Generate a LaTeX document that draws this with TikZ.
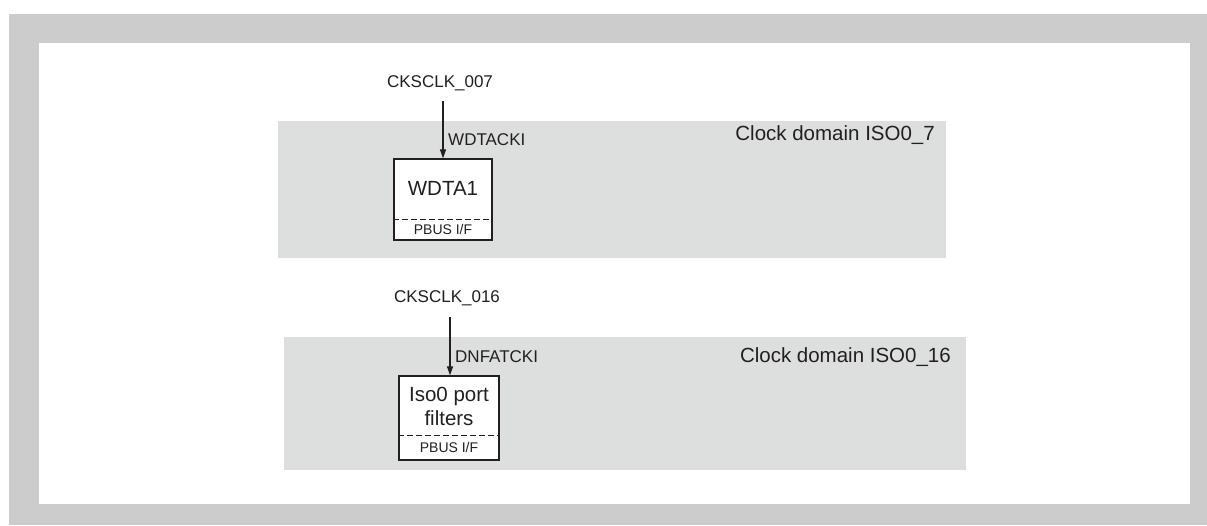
\documentclass[tikz,border=0pt]{standalone}
\usepackage{fontspec}
\setmainfont{Liberation Sans}
\usetikzlibrary{arrows.meta}
\definecolor{framegray}{HTML}{CCCCCC}
\definecolor{domgray}{HTML}{DDDFDE}
\definecolor{ink}{HTML}{231F20}
\tikzset{
  block/.style={draw=ink, fill=white, line width=1.3pt, inner sep=0pt},
  sigtext/.style={text=ink, inner sep=0pt, font=\fontsize{17}{20}\selectfont},
  domtext/.style={text=ink, inner sep=0pt, font=\fontsize{20.5}{24}\selectfont},
  boxtext/.style={text=ink, inner sep=0pt, align=center, font=\fontsize{20.5}{24}\selectfont},
  bustext/.style={text=ink, inner sep=0pt, font=\fontsize{14}{16}\selectfont},
  sepline/.style={draw=ink, line width=1pt, dash pattern=on 6pt off 3pt},
  clkarrow/.style={draw=ink, line width=1.2pt, -{Triangle[length=9pt,width=6pt]}}
}
\begin{document}
\begin{tikzpicture}[x=1pt,y=-1pt]
\useasboundingbox (0,0) rectangle (1207,525);
\fill[framegray] (9,14) rectangle (1207,525);
\fill[white] (39,43) rectangle (1190,504);
\fill[domgray] (278,121) rectangle (946,258);
\fill[domgray] (284,337) rectangle (966,470);

\node[domtext, anchor=east] (d7) at (935,135) {Clock domain ISO0\_7};
\node[domtext, anchor=east] (d16) at (951,357) {Clock domain ISO0\_16};

% domain 1
\node[block, minimum width=98pt, minimum height=81pt] (wdta) at (443,199.5) {};
\draw[sepline] ([yshift=21pt]wdta.south west) -- ([yshift=21pt]wdta.south east);
\node[boxtext] (wdtaname) at (443,188) {WDTA1};
\node[bustext] (wdtabus) at (443,229.5) {PBUS I/F};
\node[sigtext] (ck7) at (440,83) {CKSCLK\_007};
\coordinate (c7) at (443,101);
\draw[clkarrow] (c7) -- (wdta.north);
\node[sigtext, anchor=west] (wck) at (448,140) {WDTACKI};

% domain 2
\node[block, minimum width=100pt, minimum height=84pt] (iso) at (449,418) {};
\draw[sepline] ([yshift=25pt]iso.south west) -- ([yshift=25pt]iso.south east);
\node[boxtext] (isoname) at (449,406) {Iso0 port\\filters};
\node[bustext] (isobus) at (449,447.5) {PBUS I/F};
\node[sigtext] (ck16) at (447,298) {CKSCLK\_016};
\coordinate (c16) at (450,317);
\draw[clkarrow] (c16) -- (c16 |- iso.north);
\node[sigtext, anchor=west] (dck) at (455,357) {DNFATCKI};
\end{tikzpicture}
\end{document}
